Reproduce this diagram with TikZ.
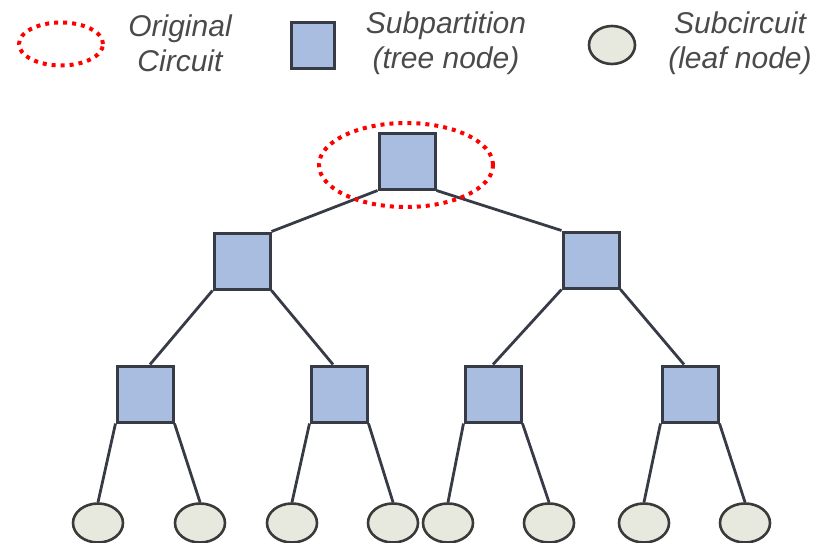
\documentclass[tikz,border=0pt]{standalone}
\usepackage{fontspec}
\setmainfont{Liberation Sans}
\usetikzlibrary{shapes.geometric}
\definecolor{sqfill}{HTML}{A9BDE0}
\definecolor{sqdraw}{HTML}{363B45}
\definecolor{leaffill}{HTML}{E8E9DE}
\definecolor{leafdraw}{HTML}{3A3A3A}
\definecolor{txt}{HTML}{4A4A4A}
\begin{document}
\begin{tikzpicture}[x=1pt,y=-1pt,
  sq/.style={draw=sqdraw,fill=sqfill,line width=3pt,minimum width=56pt,minimum height=56pt,inner sep=0pt},
  leaf/.style={ellipse,draw=leafdraw,fill=leaffill,line width=2.6pt,minimum width=50pt,minimum height=39pt,inner sep=0pt},
  orig/.style={ellipse,draw=red,line width=4pt,dash pattern=on 4pt off 5pt,inner sep=0pt},
  edge/.style={draw=sqdraw,line width=2.8pt},
  lab/.style={font=\itshape\fontsize{30}{35}\selectfont,text=txt,align=center,inner sep=0pt}]
\useasboundingbox (0,0) rectangle (827,543);
\begin{scope}
\clip (0,0) rectangle (827,543);
% legend
\node[orig,minimum width=84pt,minimum height=43pt] (lo) at (61,44) {};
\node[lab] (lot) at (180,43) {Original\\Circuit};
\node[sq,minimum width=43pt,minimum height=46pt] (ls) at (313,46) {};
\node[lab] (lst) at (446,43) {Subpartition\\(tree node)};
\node[leaf,minimum width=46pt,minimum height=38pt] (ll) at (612,45) {};
\node[lab] (llt) at (740,43) {Subcircuit\\(leaf node)};
% tree squares
\node[sq] (r) at (407,161) {};
\node[sq] (a) at (242,261) {};
\node[sq] (b) at (591,260) {};
\node[sq] (aa) at (145,394) {};
\node[sq] (ab) at (339,394) {};
\node[sq] (ba) at (493,394) {};
\node[sq] (bb) at (690,394) {};
% leaves
\node[leaf] (l1) at (98,523) {};
\node[leaf] (l2) at (200,523) {};
\node[leaf] (l3) at (292,523) {};
\node[leaf] (l4) at (393,523) {};
\node[leaf] (l5) at (448,523) {};
\node[leaf] (l6) at (549,523) {};
\node[leaf] (l7) at (644,523) {};
\node[leaf] (l8) at (745,523) {};
% edges
\draw[edge] (r.south west) -- (a.north east);
\draw[edge] (r.south east) -- (b.north west);
\draw[edge] (a.south west) -- ([xshift=5pt]aa.north);
\draw[edge] (a.south east) -- ([xshift=-6pt]ab.north);
\draw[edge] (b.south west) -- (ba.north);
\draw[edge] (b.south east) -- ([xshift=-6pt]bb.north);
\draw[edge] (aa.south west) -- (l1.north);
\draw[edge] (aa.south east) -- (l2.north);
\draw[edge] (ab.south west) -- (l3.north);
\draw[edge] (ab.south east) -- (l4.north);
\draw[edge] (ba.south west) -- (l5.north);
\draw[edge] (ba.south east) -- (l6.north);
\draw[edge] (bb.south west) -- (l7.north);
\draw[edge] (bb.south east) -- (l8.north);
% original circuit ring
\node[orig,minimum width=174pt,minimum height=84pt] (ro) at (406,165) {};
\end{scope}
\end{tikzpicture}
\end{document}
